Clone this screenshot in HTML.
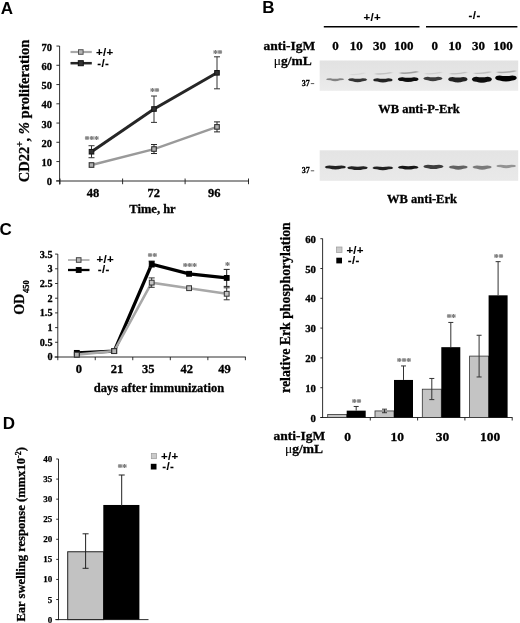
<!DOCTYPE html>
<html><head><meta charset="utf-8"><title>Figure</title>
<style>
html,body{margin:0;padding:0;background:#fff;}
body{width:520px;height:623px;overflow:hidden;position:relative;}
svg{position:absolute;left:0;top:0;display:block;}
.sf{font-family:"Liberation Serif", serif;font-weight:bold;}
.ss{font-family:"Liberation Sans", sans-serif;font-weight:bold;}
</style></head><body>
<svg width="520" height="623" viewBox="0 0 520 623">
<defs>
<filter id="b1" x="-20%" y="-100%" width="140%" height="300%"><feGaussianBlur stdDeviation="0.7 0.55"/></filter>
<filter id="b2" x="-20%" y="-100%" width="140%" height="300%"><feGaussianBlur stdDeviation="1.0 0.55"/></filter>
<filter id="soft"><feGaussianBlur stdDeviation="0.35"/></filter>
<linearGradient id="bg1" x1="0" y1="0" x2="0" y2="1"><stop offset="0" stop-color="#e2e2e2"/><stop offset="0.5" stop-color="#e6e6e6"/><stop offset="1" stop-color="#ececec"/></linearGradient>
<linearGradient id="bg2" x1="0" y1="0" x2="0" y2="1"><stop offset="0" stop-color="#e4e4e4"/><stop offset="1" stop-color="#e9e9e9"/></linearGradient>
</defs>
<rect x="0" y="0" width="520" height="623" fill="#fff"/>
<g filter="url(#soft)">
<text class="ss" x="0.8" y="14.4" font-size="17" text-anchor="start" fill="#000" stroke="#000" stroke-width="0" >A</text>
<text class="ss" x="262.2" y="12.7" font-size="17" text-anchor="start" fill="#000" stroke="#000" stroke-width="0" >B</text>
<text class="ss" x="-0.4" y="235.0" font-size="17" text-anchor="start" fill="#000" stroke="#000" stroke-width="0" >C</text>
<text class="ss" x="2.7" y="429.4" font-size="17" text-anchor="start" fill="#000" stroke="#000" stroke-width="0" >D</text>
<line x1="59.6" y1="46" x2="59.6" y2="184.5" stroke="#1a1a1a" stroke-width="0.9" />
<line x1="56.1" y1="181.0" x2="249" y2="181.0" stroke="#1a1a1a" stroke-width="0.9" />
<line x1="56.4" y1="180.8" x2="59.6" y2="180.8" stroke="#1a1a1a" stroke-width="0.9" />
<text class="sf" x="52.0" y="185.3" font-size="10.5" text-anchor="end" fill="#000" stroke="#000" stroke-width="0.3" >0</text>
<line x1="56.4" y1="161.55" x2="59.6" y2="161.55" stroke="#1a1a1a" stroke-width="0.9" />
<text class="sf" x="52.0" y="166.05" font-size="10.5" text-anchor="end" fill="#000" stroke="#000" stroke-width="0.3" >10</text>
<line x1="56.4" y1="142.3" x2="59.6" y2="142.3" stroke="#1a1a1a" stroke-width="0.9" />
<text class="sf" x="52.0" y="146.8" font-size="10.5" text-anchor="end" fill="#000" stroke="#000" stroke-width="0.3" >20</text>
<line x1="56.4" y1="123.05" x2="59.6" y2="123.05" stroke="#1a1a1a" stroke-width="0.9" />
<text class="sf" x="52.0" y="127.55" font-size="10.5" text-anchor="end" fill="#000" stroke="#000" stroke-width="0.3" >30</text>
<line x1="56.4" y1="103.8" x2="59.6" y2="103.8" stroke="#1a1a1a" stroke-width="0.9" />
<text class="sf" x="52.0" y="108.3" font-size="10.5" text-anchor="end" fill="#000" stroke="#000" stroke-width="0.3" >40</text>
<line x1="56.4" y1="84.55" x2="59.6" y2="84.55" stroke="#1a1a1a" stroke-width="0.9" />
<text class="sf" x="52.0" y="89.05" font-size="10.5" text-anchor="end" fill="#000" stroke="#000" stroke-width="0.3" >50</text>
<line x1="56.4" y1="65.3" x2="59.6" y2="65.3" stroke="#1a1a1a" stroke-width="0.9" />
<text class="sf" x="52.0" y="69.8" font-size="10.5" text-anchor="end" fill="#000" stroke="#000" stroke-width="0.3" >60</text>
<line x1="56.4" y1="46.05" x2="59.6" y2="46.05" stroke="#1a1a1a" stroke-width="0.9" />
<text class="sf" x="52.0" y="50.55" font-size="10.5" text-anchor="end" fill="#000" stroke="#000" stroke-width="0.3" >70</text>
<line x1="60" y1="178.5" x2="60" y2="184.2" stroke="#1a1a1a" stroke-width="0.9" />
<line x1="122.6" y1="178.5" x2="122.6" y2="184.2" stroke="#1a1a1a" stroke-width="0.9" />
<line x1="185.1" y1="178.5" x2="185.1" y2="184.2" stroke="#1a1a1a" stroke-width="0.9" />
<line x1="248.5" y1="178.5" x2="248.5" y2="184.2" stroke="#1a1a1a" stroke-width="0.9" />
<text class="sf" x="92.9" y="196.5" font-size="12.5" text-anchor="middle" fill="#000" stroke="#000" stroke-width="0.3" >48</text>
<text class="sf" x="153.7" y="196.5" font-size="12.5" text-anchor="middle" fill="#000" stroke="#000" stroke-width="0.3" >72</text>
<text class="sf" x="214.2" y="196.5" font-size="12.5" text-anchor="middle" fill="#000" stroke="#000" stroke-width="0.3" >96</text>
<text class="sf" x="152.5" y="213.3" font-size="12.5" text-anchor="middle" fill="#000" stroke="#000" stroke-width="0.3" >Time, hr</text>
<text class="sf" font-size="14.5" stroke="#000" stroke-width="0.3" text-anchor="middle" transform="translate(28.6,111) rotate(-90)">CD22<tspan font-size="9.5" dy="-5.5">+</tspan><tspan dy="5.5">, </tspan><tspan font-style="italic">%</tspan> proliferation</text>
<polyline fill="none" stroke="#9a9a9a" stroke-width="2.4" points="91.5,165.02 154,149.04 217,126.9"/>
<polyline fill="none" stroke="#262626" stroke-width="3.0" points="91.5,151.73 154,109.0 217,72.81"/>
<line x1="91.5" y1="145.73" x2="91.5" y2="157.73" stroke="#333" stroke-width="1" />
<line x1="88.5" y1="145.73" x2="94.5" y2="145.73" stroke="#333" stroke-width="1" />
<line x1="88.5" y1="157.73" x2="94.5" y2="157.73" stroke="#333" stroke-width="1" />
<line x1="154" y1="96.0" x2="154" y2="122.4" stroke="#333" stroke-width="1" />
<line x1="151" y1="96.0" x2="157" y2="96.0" stroke="#333" stroke-width="1" />
<line x1="151" y1="122.4" x2="157" y2="122.4" stroke="#333" stroke-width="1" />
<line x1="217" y1="56.81" x2="217" y2="88.81" stroke="#333" stroke-width="1" />
<line x1="214" y1="56.81" x2="220" y2="56.81" stroke="#333" stroke-width="1" />
<line x1="214" y1="88.81" x2="220" y2="88.81" stroke="#333" stroke-width="1" />
<line x1="154" y1="144.54" x2="154" y2="153.54" stroke="#222" stroke-width="1" />
<line x1="151" y1="144.54" x2="157" y2="144.54" stroke="#222" stroke-width="1" />
<line x1="151" y1="153.54" x2="157" y2="153.54" stroke="#222" stroke-width="1" />
<line x1="217" y1="121.9" x2="217" y2="131.9" stroke="#222" stroke-width="1" />
<line x1="214" y1="121.9" x2="220" y2="121.9" stroke="#222" stroke-width="1" />
<line x1="214" y1="131.9" x2="220" y2="131.9" stroke="#222" stroke-width="1" />
<rect x="89.2" y="162.72" width="4.6" height="4.6" fill="#b0b0b0" stroke="#333" stroke-width="1.1" />
<rect x="151.7" y="146.73999999999998" width="4.6" height="4.6" fill="#b0b0b0" stroke="#333" stroke-width="1.1" />
<rect x="214.7" y="124.60000000000001" width="4.6" height="4.6" fill="#b0b0b0" stroke="#333" stroke-width="1.1" />
<rect x="89.2" y="149.42999999999998" width="4.6" height="4.6" fill="#333" stroke="#151515" stroke-width="1" />
<rect x="151.7" y="106.7" width="4.6" height="4.6" fill="#333" stroke="#151515" stroke-width="1" />
<rect x="214.7" y="70.51" width="4.6" height="4.6" fill="#333" stroke="#151515" stroke-width="1" />
<text class="sf" x="91.6" y="143.0" font-size="10" text-anchor="middle" fill="#727272" stroke="#727272" stroke-width="0.2" letter-spacing="-0.3">***</text>
<text class="sf" x="154.6" y="94.8" font-size="10" text-anchor="middle" fill="#727272" stroke="#727272" stroke-width="0.2" letter-spacing="-0.3">**</text>
<text class="sf" x="217.6" y="56.8" font-size="10" text-anchor="middle" fill="#727272" stroke="#727272" stroke-width="0.2" letter-spacing="-0.3">**</text>
<line x1="70.5" y1="52" x2="91.8" y2="52" stroke="#a8a8a8" stroke-width="2.2" />
<rect x="78.5" y="49.7" width="4.6" height="4.6" fill="#b4b4b4" stroke="#555" stroke-width="1" />
<line x1="70.5" y1="63.2" x2="91.8" y2="63.2" stroke="#262626" stroke-width="2.5" />
<rect x="78.3" y="60.7" width="5" height="5" fill="#333" stroke="#111" stroke-width="1" />
<text class="ss" x="96" y="56" font-size="11.5" text-anchor="start" fill="#000" stroke="#000" stroke-width="0.1" letter-spacing="0.25">+/+</text>
<text class="ss" x="97.3" y="66.5" font-size="11.5" text-anchor="start" fill="#000" stroke="#000" stroke-width="0.1" letter-spacing="0.4">-/-</text>
<line x1="57.8" y1="254" x2="57.8" y2="360.2" stroke="#1a1a1a" stroke-width="0.9" />
<line x1="54.599999999999994" y1="357.0" x2="245.8" y2="357.0" stroke="#1a1a1a" stroke-width="0.9" />
<line x1="55.099999999999994" y1="357.0" x2="57.8" y2="357.0" stroke="#1a1a1a" stroke-width="0.9" />
<text class="sf" x="52.5" y="360.4" font-size="10.2" text-anchor="end" fill="#000" stroke="#000" stroke-width="0.3" >0</text>
<line x1="55.099999999999994" y1="342.3" x2="57.8" y2="342.3" stroke="#1a1a1a" stroke-width="0.9" />
<text class="sf" x="52.5" y="345.7" font-size="10.2" text-anchor="end" fill="#000" stroke="#000" stroke-width="0.3" >0.5</text>
<line x1="55.099999999999994" y1="327.6" x2="57.8" y2="327.6" stroke="#1a1a1a" stroke-width="0.9" />
<text class="sf" x="52.5" y="331.0" font-size="10.2" text-anchor="end" fill="#000" stroke="#000" stroke-width="0.3" >1</text>
<line x1="55.099999999999994" y1="312.9" x2="57.8" y2="312.9" stroke="#1a1a1a" stroke-width="0.9" />
<text class="sf" x="52.5" y="316.29999999999995" font-size="10.2" text-anchor="end" fill="#000" stroke="#000" stroke-width="0.3" >1.5</text>
<line x1="55.099999999999994" y1="298.2" x2="57.8" y2="298.2" stroke="#1a1a1a" stroke-width="0.9" />
<text class="sf" x="52.5" y="301.59999999999997" font-size="10.2" text-anchor="end" fill="#000" stroke="#000" stroke-width="0.3" >2</text>
<line x1="55.099999999999994" y1="283.5" x2="57.8" y2="283.5" stroke="#1a1a1a" stroke-width="0.9" />
<text class="sf" x="52.5" y="286.9" font-size="10.2" text-anchor="end" fill="#000" stroke="#000" stroke-width="0.3" >2.5</text>
<line x1="55.099999999999994" y1="268.8" x2="57.8" y2="268.8" stroke="#1a1a1a" stroke-width="0.9" />
<text class="sf" x="52.5" y="272.2" font-size="10.2" text-anchor="end" fill="#000" stroke="#000" stroke-width="0.3" >3</text>
<line x1="55.099999999999994" y1="254.1" x2="57.8" y2="254.1" stroke="#1a1a1a" stroke-width="0.9" />
<text class="sf" x="52.5" y="257.5" font-size="10.2" text-anchor="end" fill="#000" stroke="#000" stroke-width="0.3" >3.5</text>
<line x1="95.24" y1="357.0" x2="95.24" y2="360.2" stroke="#1a1a1a" stroke-width="0.9" />
<line x1="132.78" y1="357.0" x2="132.78" y2="360.2" stroke="#1a1a1a" stroke-width="0.9" />
<line x1="170.32" y1="357.0" x2="170.32" y2="360.2" stroke="#1a1a1a" stroke-width="0.9" />
<line x1="207.86" y1="357.0" x2="207.86" y2="360.2" stroke="#1a1a1a" stroke-width="0.9" />
<line x1="245.4" y1="357.0" x2="245.4" y2="360.2" stroke="#1a1a1a" stroke-width="0.9" />
<text class="sf" x="78.8" y="373.0" font-size="12.5" text-anchor="middle" fill="#000" stroke="#000" stroke-width="0.3" >0</text>
<text class="sf" x="117.0" y="373.0" font-size="12.5" text-anchor="middle" fill="#000" stroke="#000" stroke-width="0.3" >21</text>
<text class="sf" x="148.3" y="373.0" font-size="12.5" text-anchor="middle" fill="#000" stroke="#000" stroke-width="0.3" >35</text>
<text class="sf" x="186.8" y="373.0" font-size="12.5" text-anchor="middle" fill="#000" stroke="#000" stroke-width="0.3" >42</text>
<text class="sf" x="224.4" y="373.0" font-size="12.5" text-anchor="middle" fill="#000" stroke="#000" stroke-width="0.3" >49</text>
<text class="sf" x="159" y="392.0" font-size="12.5" text-anchor="middle" fill="#000" stroke="#000" stroke-width="0.3" >days after immunization</text>
<text class="sf" font-size="14" stroke="#000" stroke-width="0.3" text-anchor="start" transform="translate(23.9,314.8) rotate(-90)">OD<tspan font-size="8.5" dy="5.0" dx="0.8">450</tspan></text>
<polyline fill="none" stroke="#000" stroke-width="3.3" stroke-linejoin="miter" points="76.8,352.88 114.2,351.12 151.7,264.1 189.1,273.8 226.7,277.91"/>
<polyline fill="none" stroke="#a8a8a8" stroke-width="2.6" stroke-linejoin="miter" points="76.8,354.65 114.2,351.12 151.7,282.62 189.1,288.2 226.7,293.79"/>
<line x1="151.7" y1="277.92" x2="151.7" y2="287.32" stroke="#333" stroke-width="1" />
<line x1="148.7" y1="277.92" x2="154.7" y2="277.92" stroke="#333" stroke-width="1" />
<line x1="148.7" y1="287.32" x2="154.7" y2="287.32" stroke="#333" stroke-width="1" />
<line x1="226.7" y1="269.41" x2="226.7" y2="286.41" stroke="#222" stroke-width="1" />
<line x1="223.7" y1="269.41" x2="229.7" y2="269.41" stroke="#222" stroke-width="1" />
<line x1="223.7" y1="286.41" x2="229.7" y2="286.41" stroke="#222" stroke-width="1" />
<line x1="226.7" y1="287.79" x2="226.7" y2="299.79" stroke="#333" stroke-width="1" />
<line x1="223.7" y1="287.79" x2="229.7" y2="287.79" stroke="#333" stroke-width="1" />
<line x1="223.7" y1="299.79" x2="229.7" y2="299.79" stroke="#333" stroke-width="1" />
<line x1="151.7" y1="261.1" x2="151.7" y2="267.1" stroke="#222" stroke-width="1" />
<line x1="148.7" y1="261.1" x2="154.7" y2="261.1" stroke="#222" stroke-width="1" />
<line x1="148.7" y1="267.1" x2="154.7" y2="267.1" stroke="#222" stroke-width="1" />
<rect x="74.39999999999999" y="352.25" width="4.8" height="4.8" fill="#c4c4c4" stroke="#333" stroke-width="1" />
<rect x="111.8" y="348.72" width="4.8" height="4.8" fill="#c4c4c4" stroke="#333" stroke-width="1" />
<rect x="149.29999999999998" y="280.22" width="4.8" height="4.8" fill="#c4c4c4" stroke="#333" stroke-width="1" />
<rect x="186.7" y="285.8" width="4.8" height="4.8" fill="#c4c4c4" stroke="#333" stroke-width="1" />
<rect x="224.29999999999998" y="291.39000000000004" width="4.8" height="4.8" fill="#c4c4c4" stroke="#333" stroke-width="1" />
<rect x="74.39999999999999" y="350.48" width="4.8" height="4.8" fill="#000" stroke="#000" stroke-width="1" />
<rect x="111.8" y="348.72" width="4.8" height="4.8" fill="#000" stroke="#000" stroke-width="1" />
<rect x="149.29999999999998" y="261.70000000000005" width="4.8" height="4.8" fill="#000" stroke="#000" stroke-width="1" />
<rect x="186.7" y="271.40000000000003" width="4.8" height="4.8" fill="#000" stroke="#000" stroke-width="1" />
<rect x="224.29999999999998" y="275.51000000000005" width="4.8" height="4.8" fill="#000" stroke="#000" stroke-width="1" />
<rect x="74.39999999999999" y="352.25" width="4.8" height="4.8" fill="#b4b4b4" stroke="#333" stroke-width="1" />
<rect x="111.8" y="348.72" width="4.8" height="4.8" fill="#b4b4b4" stroke="#333" stroke-width="1" />
<text class="sf" x="152.29999999999998" y="259.8" font-size="10" text-anchor="middle" fill="#727272" stroke="#727272" stroke-width="0.2" letter-spacing="-0.3">**</text>
<text class="sf" x="189.7" y="269.8" font-size="10" text-anchor="middle" fill="#727272" stroke="#727272" stroke-width="0.2" letter-spacing="-0.3">***</text>
<text class="sf" x="227.29999999999998" y="269.3" font-size="10" text-anchor="middle" fill="#727272" stroke="#727272" stroke-width="0.2" letter-spacing="-0.3">*</text>
<line x1="68" y1="260" x2="89.5" y2="260" stroke="#b4b4b4" stroke-width="1.9" />
<rect x="76.4" y="257.7" width="4.6" height="4.6" fill="#b8b8b8" stroke="#444" stroke-width="1" />
<line x1="68" y1="270" x2="89.5" y2="270" stroke="#000" stroke-width="2.3" />
<rect x="76.3" y="267.6" width="4.8" height="4.8" fill="#000" stroke="#000" stroke-width="1" />
<text class="ss" x="96.5" y="263.1" font-size="11.5" text-anchor="start" fill="#000" stroke="#000" stroke-width="0.1" letter-spacing="0.25">+/+</text>
<text class="ss" x="97.8" y="273.0" font-size="11.5" text-anchor="start" fill="#000" stroke="#000" stroke-width="0.1" letter-spacing="0.4">-/-</text>
<line x1="58.5" y1="459.0" x2="58.5" y2="620.1" stroke="#1a1a1a" stroke-width="0.9" />
<line x1="55.3" y1="619.6" x2="148.5" y2="619.6" stroke="#1a1a1a" stroke-width="0.9" />
<line x1="56.2" y1="619.6" x2="58.5" y2="619.6" stroke="#1a1a1a" stroke-width="0.9" />
<text class="sf" x="52.3" y="622.6" font-size="9" text-anchor="end" fill="#000" stroke="#000" stroke-width="0.25" >0</text>
<line x1="56.2" y1="599.52" x2="58.5" y2="599.52" stroke="#1a1a1a" stroke-width="0.9" />
<text class="sf" x="52.3" y="602.52" font-size="9" text-anchor="end" fill="#000" stroke="#000" stroke-width="0.25" >5</text>
<line x1="56.2" y1="579.45" x2="58.5" y2="579.45" stroke="#1a1a1a" stroke-width="0.9" />
<text class="sf" x="52.3" y="582.45" font-size="9" text-anchor="end" fill="#000" stroke="#000" stroke-width="0.25" >10</text>
<line x1="56.2" y1="559.38" x2="58.5" y2="559.38" stroke="#1a1a1a" stroke-width="0.9" />
<text class="sf" x="52.3" y="562.38" font-size="9" text-anchor="end" fill="#000" stroke="#000" stroke-width="0.25" >15</text>
<line x1="56.2" y1="539.3" x2="58.5" y2="539.3" stroke="#1a1a1a" stroke-width="0.9" />
<text class="sf" x="52.3" y="542.3" font-size="9" text-anchor="end" fill="#000" stroke="#000" stroke-width="0.25" >20</text>
<line x1="56.2" y1="519.23" x2="58.5" y2="519.23" stroke="#1a1a1a" stroke-width="0.9" />
<text class="sf" x="52.3" y="522.23" font-size="9" text-anchor="end" fill="#000" stroke="#000" stroke-width="0.25" >25</text>
<line x1="56.2" y1="499.15" x2="58.5" y2="499.15" stroke="#1a1a1a" stroke-width="0.9" />
<text class="sf" x="52.3" y="502.15" font-size="9" text-anchor="end" fill="#000" stroke="#000" stroke-width="0.25" >30</text>
<line x1="56.2" y1="479.08" x2="58.5" y2="479.08" stroke="#1a1a1a" stroke-width="0.9" />
<text class="sf" x="52.3" y="482.08" font-size="9" text-anchor="end" fill="#000" stroke="#000" stroke-width="0.25" >35</text>
<line x1="56.2" y1="459.0" x2="58.5" y2="459.0" stroke="#1a1a1a" stroke-width="0.9" />
<text class="sf" x="52.3" y="462.0" font-size="9" text-anchor="end" fill="#000" stroke="#000" stroke-width="0.25" >40</text>
<rect x="67.7" y="551.75" width="36" height="67.85" fill="#c2c2c2" stroke="#222" stroke-width="1" />
<rect x="103.3" y="504.97" width="36.1" height="114.63" fill="#000" />
<line x1="85.6" y1="533.8" x2="85.6" y2="568.3" stroke="#222" stroke-width="1" />
<line x1="82.6" y1="533.8" x2="88.6" y2="533.8" stroke="#222" stroke-width="1" />
<line x1="82.6" y1="568.3" x2="88.6" y2="568.3" stroke="#222" stroke-width="1" />
<line x1="121.7" y1="475" x2="121.7" y2="506" stroke="#222" stroke-width="1" />
<line x1="118.7" y1="475" x2="124.7" y2="475" stroke="#222" stroke-width="1" />
<text class="sf" x="122.1" y="470.8" font-size="10" text-anchor="middle" fill="#727272" stroke="#727272" stroke-width="0.2" letter-spacing="-0.3">**</text>
<text class="sf" font-size="12.6" stroke="#000" stroke-width="0.3" text-anchor="start" transform="translate(25.3,621.6) rotate(-90)">Ear swelling response (mmx10<tspan font-size="8" dy="-4.5">-2</tspan><tspan dy="4.5">)</tspan></text>
<rect x="151.3" y="453.5" width="5.2" height="5.2" fill="#cacaca" stroke="#999" stroke-width="0.7" />
<rect x="150.8" y="463.8" width="5.7" height="5.7" fill="#000" />
<text class="ss" x="161" y="460.3" font-size="11.5" text-anchor="start" fill="#000" stroke="#000" stroke-width="0.1" letter-spacing="0.25">+/+</text>
<text class="ss" x="162.3" y="470.0" font-size="11.5" text-anchor="start" fill="#000" stroke="#000" stroke-width="0.1" letter-spacing="0.4">-/-</text>
<text class="ss" x="372.3" y="21.2" font-size="11.5" text-anchor="middle" fill="#000" stroke="#000" stroke-width="0.1" letter-spacing="0.25">+/+</text>
<text class="ss" x="474.6" y="18.6" font-size="11.5" text-anchor="middle" fill="#000" stroke="#000" stroke-width="0.1" letter-spacing="0.4">-/-</text>
<line x1="323.8" y1="26.7" x2="419.5" y2="26.7" stroke="#000" stroke-width="1.5" />
<line x1="426" y1="26.7" x2="517.4" y2="26.7" stroke="#000" stroke-width="1.5" />
<text class="sf" x="263.5" y="49.6" font-size="13.5" text-anchor="start" fill="#000" stroke="#000" stroke-width="0.3" >anti-IgM</text>
<text class="sf" x="273.8" y="64.7" font-size="13.5" text-anchor="start" fill="#000" stroke="#000" stroke-width="0.3" ><tspan font-weight="normal" stroke-width="0.1">μ</tspan>g/mL</text>
<text class="sf" x="335.5" y="49.8" font-size="13" text-anchor="middle" fill="#000" stroke="#000" stroke-width="0.3" >0</text>
<text class="sf" x="356.2" y="49.8" font-size="13" text-anchor="middle" fill="#000" stroke="#000" stroke-width="0.3" >10</text>
<text class="sf" x="379.6" y="49.8" font-size="13" text-anchor="middle" fill="#000" stroke="#000" stroke-width="0.3" >30</text>
<text class="sf" x="403.7" y="49.8" font-size="13" text-anchor="middle" fill="#000" stroke="#000" stroke-width="0.3" >100</text>
<text class="sf" x="434.8" y="49.8" font-size="13" text-anchor="middle" fill="#000" stroke="#000" stroke-width="0.3" >0</text>
<text class="sf" x="455.1" y="49.8" font-size="13" text-anchor="middle" fill="#000" stroke="#000" stroke-width="0.3" >10</text>
<text class="sf" x="478.5" y="49.8" font-size="13" text-anchor="middle" fill="#000" stroke="#000" stroke-width="0.3" >30</text>
<text class="sf" x="503.1" y="49.8" font-size="13" text-anchor="middle" fill="#000" stroke="#000" stroke-width="0.3" >100</text>
<rect x="319.7" y="60.5" width="198.5" height="30.3" fill="url(#bg1)" />
<path d="M325.9,79.2 Q326.7,78.2 330.4,78.2 Q335.15,79.2 339.9,78.2 Q343.59999999999997,78.2 344.4,79.2 Q343.59999999999997,80.2 339.9,80.2 Q335.15,82.2 330.4,80.2 Q326.7,80.2 325.9,79.2 Z" fill="#6a6a6a" opacity="0.8" filter="url(#b1)"/>
<path d="M347.9,79.8 Q348.7,78.35 352.4,78.35 Q357.6,79.35 362.8,78.35 Q366.5,78.35 367.3,79.8 Q366.5,81.25 362.8,81.25 Q357.6,83.25 352.4,81.25 Q348.7,81.25 347.9,79.8 Z" fill="#242424" opacity="0.9" filter="url(#b1)"/>
<path d="M372.9,79.9 Q373.7,78.3 377.4,78.3 Q382.9,79.3 388.4,78.3 Q392.09999999999997,78.3 392.9,79.9 Q392.09999999999997,81.5 388.4,81.5 Q382.9,83.5 377.4,81.5 Q373.7,81.5 372.9,79.9 Z" fill="#181818" opacity="0.95" filter="url(#b1)"/>
<path d="M397.8,79.2 Q398.6,77.3 402.3,77.3 Q408.2,78.3 414.1,77.3 Q417.8,77.3 418.6,79.2 Q417.8,81.1 414.1,81.1 Q408.2,83.1 402.3,81.1 Q398.6,81.1 397.8,79.2 Z" fill="#080808" opacity="1" filter="url(#b1)"/>
<path d="M423.2,78.5 Q424.0,76.85 427.7,76.85 Q432.9,77.85 438.1,76.85 Q441.8,76.85 442.6,78.5 Q441.8,80.15 438.1,80.15 Q432.9,82.15 427.7,80.15 Q424.0,80.15 423.2,78.5 Z" fill="#2c2c2c" opacity="0.9" filter="url(#b1)"/>
<path d="M448.1,79.2 Q448.90000000000003,77.0 452.6,77.0 Q457.85,78.0 463.1,77.0 Q466.8,77.0 467.6,79.2 Q466.8,81.4 463.1,81.4 Q457.85,83.4 452.6,81.4 Q448.90000000000003,81.4 448.1,79.2 Z" fill="#151515" opacity="0.95" filter="url(#b1)"/>
<path d="M471.8,79.2 Q472.6,76.7 476.3,76.7 Q481.9,77.7 487.5,76.7 Q491.2,76.7 492.0,79.2 Q491.2,81.7 487.5,81.7 Q481.9,83.7 476.3,81.7 Q472.6,81.7 471.8,79.2 Z" fill="#0a0a0a" opacity="1" filter="url(#b1)"/>
<path d="M495.1,78.0 Q495.90000000000003,75.6 499.6,75.6 Q505.95,76.6 512.3,75.6 Q516.0,75.6 516.8,78.0 Q516.0,80.4 512.3,80.4 Q505.95,82.4 499.6,80.4 Q495.90000000000003,80.4 495.1,78.0 Z" fill="#050505" opacity="1" filter="url(#b1)"/>
<path d="M351,74.5 Q357.5,75.0 364,73.2" fill="none" stroke="#333" stroke-width="1.2" stroke-linecap="round" opacity="0.08" filter="url(#b2)"/>
<path d="M376,73.9 Q383.5,74.4 391,72.60000000000001" fill="none" stroke="#333" stroke-width="1.4" stroke-linecap="round" opacity="0.2" filter="url(#b2)"/>
<path d="M401,73.1 Q409.0,73.6 417,71.8" fill="none" stroke="#333" stroke-width="1.5" stroke-linecap="round" opacity="0.4" filter="url(#b2)"/>
<path d="M426,73.7 Q433.5,74.2 441,72.4" fill="none" stroke="#333" stroke-width="1.2" stroke-linecap="round" opacity="0.12" filter="url(#b2)"/>
<path d="M451,73.7 Q458.5,74.2 466,72.4" fill="none" stroke="#333" stroke-width="1.3" stroke-linecap="round" opacity="0.2" filter="url(#b2)"/>
<path d="M475,73.3 Q482.5,73.8 490,72.0" fill="none" stroke="#333" stroke-width="1.3" stroke-linecap="round" opacity="0.22" filter="url(#b2)"/>
<path d="M498,72.3 Q506.5,72.8 515,71.0" fill="none" stroke="#333" stroke-width="1.5" stroke-linecap="round" opacity="0.32" filter="url(#b2)"/>
<text class="sf" x="301.8" y="85.9" font-size="8" text-anchor="start" fill="#000" stroke="#000" stroke-width="0.3" >37</text>
<line x1="310.8" y1="83.6" x2="314.2" y2="83.6" stroke="#444" stroke-width="0.9" />
<text class="sf" x="419" y="112.5" font-size="12.5" text-anchor="middle" fill="#000" stroke="#000" stroke-width="0.3" >WB anti-P-Erk</text>
<rect x="319.7" y="150.3" width="198.5" height="30.5" fill="url(#bg2)" />
<path d="M324.7,167.0 Q325.5,165.5 329.2,165.5 Q335.4,166.4 341.6,165.5 Q345.3,165.5 346.1,167.0 Q345.3,168.5 341.6,168.5 Q335.4,170.3 329.2,168.5 Q325.5,168.5 324.7,167.0 Z" fill="#151515" opacity="0.95" filter="url(#b1)"/>
<path d="M347.1,167.7 Q347.90000000000003,166.2 351.6,166.2 Q357.5,167.1 363.4,166.2 Q367.09999999999997,166.2 367.9,167.7 Q367.09999999999997,169.2 363.4,169.2 Q357.5,171.0 351.6,169.2 Q347.90000000000003,169.2 347.1,167.7 Z" fill="#151515" opacity="0.95" filter="url(#b1)"/>
<path d="M372.4,167.9 Q373.2,166.45 376.9,166.45 Q382.85,167.35 388.8,166.45 Q392.5,166.45 393.3,167.9 Q392.5,169.35 388.8,169.35 Q382.85,171.15 376.9,169.35 Q373.2,169.35 372.4,167.9 Z" fill="#181818" opacity="0.95" filter="url(#b1)"/>
<path d="M397.8,167.2 Q398.6,165.7 402.3,165.7 Q408.2,166.6 414.1,165.7 Q417.8,165.7 418.6,167.2 Q417.8,168.7 414.1,168.7 Q408.2,170.5 402.3,168.7 Q398.6,168.7 397.8,167.2 Z" fill="#111" opacity="0.95" filter="url(#b1)"/>
<path d="M423.4,166.5 Q424.2,164.8 427.9,164.8 Q433.5,165.7 439.1,164.8 Q442.8,164.8 443.6,166.5 Q442.8,168.2 439.1,168.2 Q433.5,170.0 427.9,168.2 Q424.2,168.2 423.4,166.5 Z" fill="#2a2a2a" opacity="0.9" filter="url(#b1)"/>
<path d="M448.7,167.1 Q449.5,165.45 453.2,165.45 Q458.3,166.35 463.4,165.45 Q467.09999999999997,165.45 467.9,167.1 Q467.09999999999997,168.75 463.4,168.75 Q458.3,170.55 453.2,168.75 Q449.5,168.75 448.7,167.1 Z" fill="#4c4c4c" opacity="0.85" filter="url(#b1)"/>
<path d="M472.4,167.1 Q473.2,165.45 476.9,165.45 Q482.15,166.35 487.4,165.45 Q491.09999999999997,165.45 491.9,167.1 Q491.09999999999997,168.75 487.4,168.75 Q482.15,170.55 476.9,168.75 Q473.2,168.75 472.4,167.1 Z" fill="#606060" opacity="0.8" filter="url(#b1)"/>
<path d="M496.2,166.0 Q497.0,164.75 500.7,164.75 Q506.2,165.65 511.70000000000005,164.75 Q515.4000000000001,164.75 516.2,166.0 Q515.4000000000001,167.25 511.70000000000005,167.25 Q506.2,169.05 500.7,167.25 Q497.0,167.25 496.2,166.0 Z" fill="#787878" opacity="0.75" filter="url(#b1)"/>
<text class="sf" x="301.8" y="173.4" font-size="8" text-anchor="start" fill="#000" stroke="#000" stroke-width="0.3" >37</text>
<line x1="310.8" y1="170.8" x2="314.2" y2="170.8" stroke="#444" stroke-width="0.9" />
<text class="sf" x="422" y="202.9" font-size="12.5" text-anchor="middle" fill="#000" stroke="#000" stroke-width="0.3" >WB anti-Erk</text>
<line x1="322.6" y1="238.5" x2="322.6" y2="418.0" stroke="#1a1a1a" stroke-width="0.9" />
<line x1="320.40000000000003" y1="417.5" x2="512.5" y2="417.5" stroke="#1a1a1a" stroke-width="0.9" />
<line x1="320.40000000000003" y1="417.5" x2="322.6" y2="417.5" stroke="#1a1a1a" stroke-width="0.9" />
<text class="sf" x="316" y="421.5" font-size="10.8" text-anchor="end" fill="#000" stroke="#000" stroke-width="0.3" >0</text>
<line x1="320.40000000000003" y1="387.7" x2="322.6" y2="387.7" stroke="#1a1a1a" stroke-width="0.9" />
<text class="sf" x="316" y="391.7" font-size="10.8" text-anchor="end" fill="#000" stroke="#000" stroke-width="0.3" >10</text>
<line x1="320.40000000000003" y1="357.9" x2="322.6" y2="357.9" stroke="#1a1a1a" stroke-width="0.9" />
<text class="sf" x="316" y="361.9" font-size="10.8" text-anchor="end" fill="#000" stroke="#000" stroke-width="0.3" >20</text>
<line x1="320.40000000000003" y1="328.1" x2="322.6" y2="328.1" stroke="#1a1a1a" stroke-width="0.9" />
<text class="sf" x="316" y="332.1" font-size="10.8" text-anchor="end" fill="#000" stroke="#000" stroke-width="0.3" >30</text>
<line x1="320.40000000000003" y1="298.3" x2="322.6" y2="298.3" stroke="#1a1a1a" stroke-width="0.9" />
<text class="sf" x="316" y="302.3" font-size="10.8" text-anchor="end" fill="#000" stroke="#000" stroke-width="0.3" >40</text>
<line x1="320.40000000000003" y1="268.5" x2="322.6" y2="268.5" stroke="#1a1a1a" stroke-width="0.9" />
<text class="sf" x="316" y="272.5" font-size="10.8" text-anchor="end" fill="#000" stroke="#000" stroke-width="0.3" >50</text>
<line x1="320.40000000000003" y1="238.7" x2="322.6" y2="238.7" stroke="#1a1a1a" stroke-width="0.9" />
<text class="sf" x="316" y="242.7" font-size="10.8" text-anchor="end" fill="#000" stroke="#000" stroke-width="0.3" >60</text>
<line x1="370.3" y1="417.5" x2="370.3" y2="420.5" stroke="#1a1a1a" stroke-width="0.9" />
<line x1="417.6" y1="417.5" x2="417.6" y2="420.5" stroke="#1a1a1a" stroke-width="0.9" />
<line x1="464.9" y1="417.5" x2="464.9" y2="420.5" stroke="#1a1a1a" stroke-width="0.9" />
<line x1="512.2" y1="417.5" x2="512.2" y2="420.5" stroke="#1a1a1a" stroke-width="0.9" />
<rect x="327.7" y="414.52" width="19" height="2.98" fill="#c4c4c4" stroke="#333" stroke-width="0.8" />
<rect x="346.7" y="410.65" width="19" height="6.85" fill="#000" />
<line x1="356.2" y1="406.47" x2="356.2" y2="410.65" stroke="#333" stroke-width="1" />
<line x1="353.7" y1="406.47" x2="358.7" y2="406.47" stroke="#333" stroke-width="1" />
<text class="sf" x="356.5" y="405.77000000000004" font-size="10" text-anchor="middle" fill="#727272" stroke="#727272" stroke-width="0.2" letter-spacing="-0.3">**</text>
<rect x="375.0" y="410.94" width="19" height="6.56" fill="#c4c4c4" stroke="#333" stroke-width="0.8" />
<rect x="394.0" y="379.95" width="19" height="37.55" fill="#000" />
<line x1="384.5" y1="409.16" x2="384.5" y2="412.73" stroke="#333" stroke-width="1" />
<line x1="382.0" y1="409.16" x2="387.0" y2="409.16" stroke="#333" stroke-width="1" />
<line x1="382.0" y1="412.73" x2="387.0" y2="412.73" stroke="#333" stroke-width="1" />
<line x1="403.5" y1="365.95" x2="403.5" y2="379.95" stroke="#333" stroke-width="1" />
<line x1="401.0" y1="365.95" x2="406.0" y2="365.95" stroke="#333" stroke-width="1" />
<text class="sf" x="403.8" y="365.25" font-size="10" text-anchor="middle" fill="#727272" stroke="#727272" stroke-width="0.2" letter-spacing="-0.3">***</text>
<rect x="422.3" y="389.19" width="19" height="28.31" fill="#c4c4c4" stroke="#333" stroke-width="0.8" />
<rect x="441.3" y="347.17" width="19" height="70.33" fill="#000" />
<line x1="431.8" y1="378.46" x2="431.8" y2="399.62" stroke="#333" stroke-width="1" />
<line x1="429.3" y1="378.46" x2="434.3" y2="378.46" stroke="#333" stroke-width="1" />
<line x1="429.3" y1="399.62" x2="434.3" y2="399.62" stroke="#333" stroke-width="1" />
<line x1="450.8" y1="322.44" x2="450.8" y2="347.17" stroke="#333" stroke-width="1" />
<line x1="448.3" y1="322.44" x2="453.3" y2="322.44" stroke="#333" stroke-width="1" />
<text class="sf" x="451.1" y="320.54" font-size="10" text-anchor="middle" fill="#727272" stroke="#727272" stroke-width="0.2" letter-spacing="-0.3">**</text>
<rect x="469.6" y="356.11" width="19" height="61.39" fill="#c4c4c4" stroke="#333" stroke-width="0.8" />
<rect x="488.6" y="295.32" width="19" height="122.18" fill="#000" />
<line x1="479.1" y1="335.25" x2="479.1" y2="376.97" stroke="#333" stroke-width="1" />
<line x1="476.6" y1="335.25" x2="481.6" y2="335.25" stroke="#333" stroke-width="1" />
<line x1="476.6" y1="376.97" x2="481.6" y2="376.97" stroke="#333" stroke-width="1" />
<line x1="498.1" y1="261.65" x2="498.1" y2="295.32" stroke="#333" stroke-width="1" />
<line x1="495.6" y1="261.65" x2="500.6" y2="261.65" stroke="#333" stroke-width="1" />
<text class="sf" x="498.40000000000003" y="260.95" font-size="10" text-anchor="middle" fill="#727272" stroke="#727272" stroke-width="0.2" letter-spacing="-0.3">**</text>
<text class="sf" x="347.7" y="440.8" font-size="13.5" text-anchor="middle" fill="#000" stroke="#000" stroke-width="0.3" >0</text>
<text class="sf" x="397.2" y="440.8" font-size="13.5" text-anchor="middle" fill="#000" stroke="#000" stroke-width="0.3" >10</text>
<text class="sf" x="442.6" y="440.8" font-size="13.5" text-anchor="middle" fill="#000" stroke="#000" stroke-width="0.3" >30</text>
<text class="sf" x="490.1" y="440.8" font-size="13.5" text-anchor="middle" fill="#000" stroke="#000" stroke-width="0.3" >100</text>
<text class="sf" x="273.5" y="439.9" font-size="13.5" text-anchor="start" fill="#000" stroke="#000" stroke-width="0.3" >anti-IgM</text>
<text class="sf" x="285" y="453.4" font-size="13.5" text-anchor="start" fill="#000" stroke="#000" stroke-width="0.3" ><tspan font-weight="normal" stroke-width="0.1">μ</tspan>g/mL</text>
<text class="sf" font-size="13.8" stroke="#000" stroke-width="0.3" text-anchor="start" transform="translate(290.3,392.9) rotate(-90)">relative Erk phosphorylation</text>
<rect x="336.6" y="247.0" width="5.4" height="5.4" fill="#cacaca" stroke="#999" stroke-width="0.7" />
<rect x="336.3" y="257.7" width="5.7" height="5.7" fill="#000" />
<text class="ss" x="346.4" y="253.6" font-size="11.5" text-anchor="start" fill="#000" stroke="#000" stroke-width="0.1" letter-spacing="0.25">+/+</text>
<text class="ss" x="347.7" y="263.6" font-size="11.5" text-anchor="start" fill="#000" stroke="#000" stroke-width="0.1" letter-spacing="0.4">-/-</text>
</g>
</svg>
</body></html>
